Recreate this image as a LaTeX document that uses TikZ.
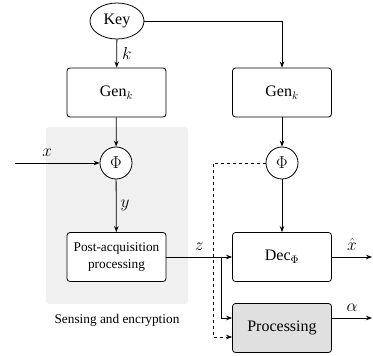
\documentclass[tikz,border=0pt]{standalone}
\usepackage{fontspec}
\setmainfont{Liberation Serif}
\newfontfamily\tnr{Liberation Serif}
\usetikzlibrary{shapes.geometric,arrows.meta,calc}
\begin{document}
\begin{tikzpicture}[x=1pt,y=-1pt,line width=0.8pt,
  every node/.style={font=\tnr\fontsize{16}{19}\selectfont},
  blk/.style={draw,fill=white,rounded corners=3pt,minimum width=99pt,minimum height=49pt,inner sep=1pt},
  phinode/.style={draw,fill=white,circle,minimum size=32pt,inner sep=0pt},
  arr/.style={-{Stealth[length=6pt,width=4.5pt]}},
  lbl/.style={font=\fontsize{16}{19}\selectfont,inner sep=0pt}]
\useasboundingbox (0,0) rectangle (373,356);
% background
\node[fill=black!6,rounded corners=3pt,minimum width=142pt,minimum height=177pt,inner sep=0pt] (bg) at (117,215.5) {};
\node[font=\tnr\fontsize{13.3}{16}\selectfont] (bglabel) at (117,320) {Sensing and encryption};
% nodes
\node[draw,ellipse,minimum width=54pt,minimum height=36pt,inner sep=0pt] (key) at (117,21) {Key};
\node[blk] (gen1) at (116.5,92.5) {Gen$_k$};
\node[blk] (gen2) at (282,92.5) {Gen$_k$};
\node[phinode] (phi1) at (116,163) {$\Phi$};
\node[phinode] (phi2) at (282,163) {$\Phi$};
\node[blk,align=center,font=\tnr\fontsize{13.3}{16.5}\selectfont] (post) at (116.5,257) {Post-acquisition\\processing};
\node[blk] (dec) at (282,257) {Dec$_\Phi$};
\node[blk,fill=black!12] (proc) at (282,328) {Processing};
\coordinate (xin) at (15,163);
\coordinate (br) at (221,257);
\coordinate (dc) at (213,163);
\coordinate (xout) at (372,257);
\coordinate (aout) at (372,318);
% connectors
\draw[arr] (key) -- node[lbl,right=5pt] {$k$} (gen1);
\draw[arr] (key.east) -| (gen2.north);
\draw[arr] (gen1) -- (phi1);
\draw[arr] (gen2) -- (phi2);
\draw[arr] (xin) -- node[lbl,above=6pt,pos=0.38] {$x$} (phi1);
\draw[arr] (phi1) -- node[lbl,right=4pt] {$y$} (post);
\draw[arr] (phi2) -- (dec);
\draw[arr] (post) -- node[lbl,above=6pt,pos=0.5] {$z$} (dec);
\draw[arr] (br) |- ($(proc.west)+(0,-10)$);
\draw[arr,dashed] (phi2.west) -- (dc) |- ($(proc.west)+(0,9)$);
\draw[arr] (dec.east) -- node[lbl,above=6pt] {$\hat{x}$} (xout);
\draw[arr] ($(proc.east)+(0,-10)$) -- node[lbl,above=6pt] {$\alpha$} (aout);
\end{tikzpicture}
\end{document}
